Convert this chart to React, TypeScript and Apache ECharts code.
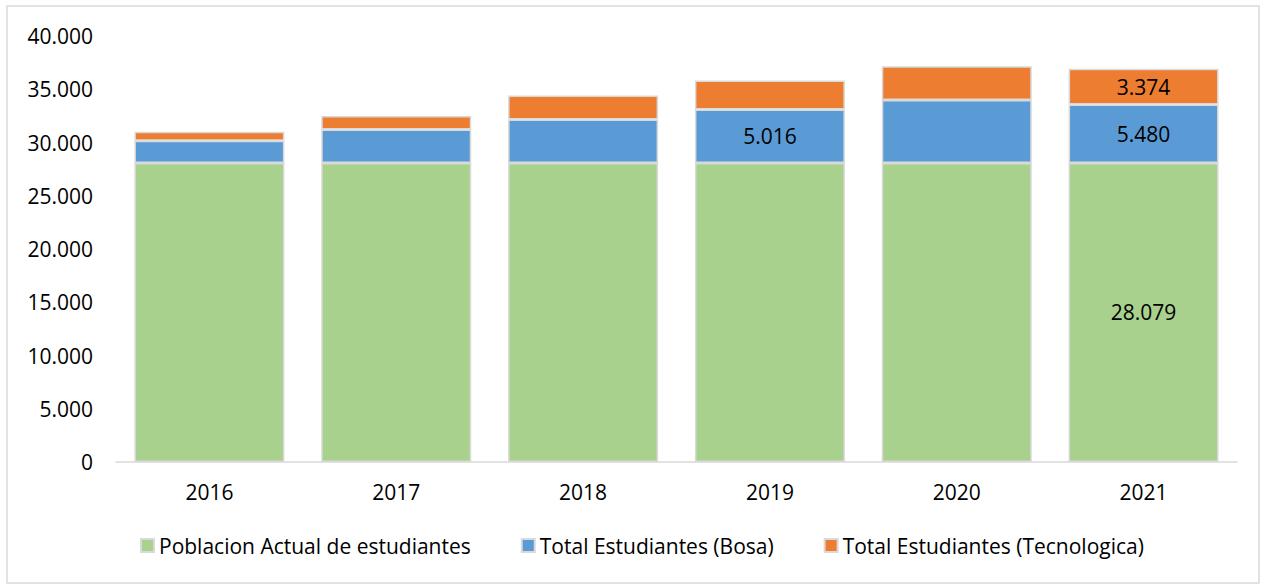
import React, { useEffect, useRef } from "react";
import * as echarts from "echarts";

const years = ["2016", "2017", "2018", "2019", "2020", "2021"];
const poblacion = [28079, 28079, 28079, 28079, 28079, 28079];
const bosa = [2096, 3130, 4070, 5016, 5922, 5480];
const tecnologica = [846, 1288, 2256, 2720, 3158, 3374];
const showPoblacion = [false, false, false, false, false, true];
const showBosa = [false, false, false, true, false, true];
const showTecno = [false, false, false, false, false, true];
const seriesNames = [
  "Poblacion Actual de estudiantes",
  "Total Estudiantes (Bosa)",
  "Total Estudiantes (Tecnologica)",
];
const colors = ["#a9d18e", "#5b9bd5", "#ed7d31"];

const FONT = "Open Sans";
const FS = 21;
const fmt = (v: number) => v.toLocaleString("de-DE");

function mk(values: number[], flags: boolean[]) {
  return values.map((v, i) => ({ value: v, label: { show: flags[i] } }));
}

export default function App() {
  const ref = useRef<HTMLDivElement>(null);
  useEffect(() => {
    const chart = echarts.init(ref.current!, undefined, { renderer: "svg" });
    const label = {
      show: false,
      position: "inside",
      color: "#000",
      fontFamily: FONT,
      fontSize: FS,
      formatter: (p: any) => fmt(p.value),
    };
    const item = { borderColor: "#d9d9d9", borderWidth: 1.5 };
    chart.setOption({
      animation: false,
      textStyle: { fontFamily: FONT },
      grid: { left: 116, right: 28, top: 36, bottom: 124 },
      legend: {
        top: 530,
        left: 135,
        itemWidth: 13,
        itemHeight: 13,
        itemGap: 50,
        icon: "rect",
        textStyle: { fontFamily: FONT, fontSize: FS, color: "#000" },
        data: seriesNames,
      },
      xAxis: {
        type: "category",
        data: years,
        axisLine: { show: true, lineStyle: { color: "#d9d9d9", width: 1.5 } },
        axisTick: { show: false },
        axisLabel: { fontFamily: FONT, fontSize: FS, color: "#000", margin: 19 },
      },
      yAxis: {
        type: "value",
        min: 0,
        max: 40000,
        interval: 5000,
        splitLine: { show: false },
        axisLine: { show: false },
        axisLabel: {
          fontFamily: FONT,
          fontSize: FS,
          color: "#000",
          margin: 23,
          formatter: (v: number) => fmt(v),
        },
      },
      series: [
        { name: seriesNames[0], type: "bar", stack: "a", barWidth: 150, itemStyle: { ...item, color: colors[0] }, label, data: mk(poblacion, showPoblacion) },
        { name: seriesNames[1], type: "bar", stack: "a", barWidth: 150, itemStyle: { ...item, color: colors[1] }, label, data: mk(bosa, showBosa) },
        { name: seriesNames[2], type: "bar", stack: "a", barWidth: 150, itemStyle: { ...item, color: colors[2] }, label, data: mk(tecnologica, showTecno) },
      ],
      graphic: [
        {
          type: "rect",
          shape: { x: 7, y: 6, width: 1252, height: 577 },
          style: { fill: "none", stroke: "#d9d9d9", lineWidth: 1.5 },
          silent: true,
        },
      ],
    });
    return () => chart.dispose();
  }, []);
  return (
    <div
      ref={ref}
      style={{ position: "fixed", left: 0, top: 0, width: 1265, height: 586, background: "#fff" }}
    />
  );
}
